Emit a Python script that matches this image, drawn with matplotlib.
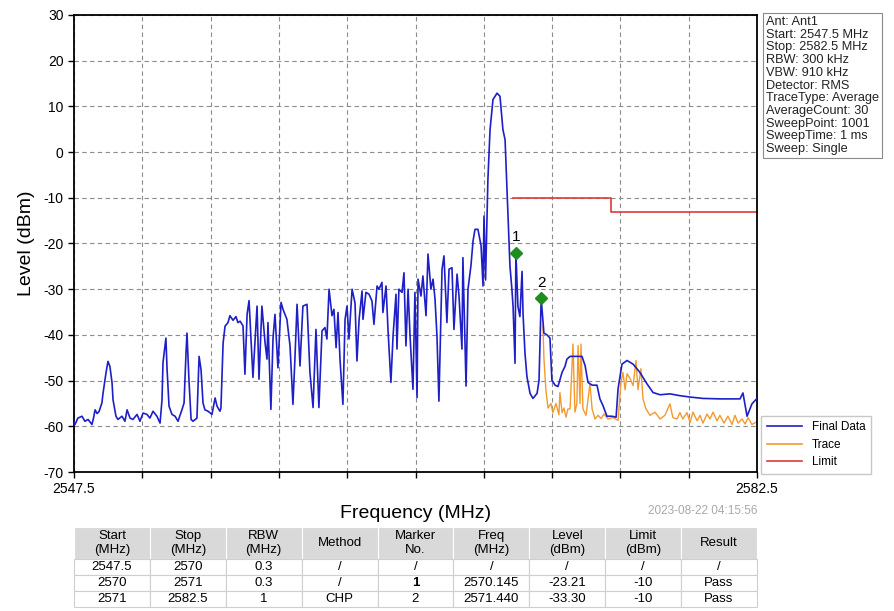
import numpy as np
import matplotlib
matplotlib.use("Agg")
import matplotlib.pyplot as plt
from matplotlib.lines import Line2D

plt.rcParams['font.family'] = ['Liberation Sans', 'DejaVu Sans']

# ---------------- data ----------------
final_freq = [
    2547.50, 2547.55, 2547.70, 2547.91, 2548.06, 2548.22, 2548.42, 2548.50, 2548.58, 2548.68,
    2548.78, 2548.93, 2548.99, 2549.14, 2549.24, 2549.34, 2549.45, 2549.50, 2549.65, 2549.75,
    2549.96, 2550.11, 2550.22, 2550.37, 2550.52, 2550.73, 2550.88, 2551.04, 2551.24, 2551.39,
    2551.55, 2551.75, 2551.91, 2552.01, 2552.06, 2552.21, 2552.27, 2552.37, 2552.52, 2552.68,
    2552.83, 2553.03, 2553.14, 2553.24, 2553.29, 2553.39, 2553.50, 2553.60, 2553.80, 2553.91,
    2554.01, 2554.11, 2554.21, 2554.37, 2554.57, 2554.73, 2554.83, 2554.98, 2555.03, 2555.14,
    2555.24, 2555.39, 2555.49, 2555.65, 2555.80, 2555.90, 2556.01, 2556.16, 2556.26, 2556.37,
    2556.47, 2556.62, 2556.67, 2556.88, 2556.98, 2557.13, 2557.29, 2557.39, 2557.44, 2557.59,
    2557.70, 2557.80, 2557.95, 2558.11, 2558.21, 2558.41, 2558.57, 2558.72, 2558.82, 2558.93,
    2559.08, 2559.23, 2559.44, 2559.59, 2559.75, 2559.90, 2560.05, 2560.21, 2560.36, 2560.46,
    2560.57, 2560.72, 2560.82, 2560.93, 2561.03, 2561.13, 2561.28, 2561.39, 2561.49, 2561.59,
    2561.75, 2561.90, 2562.00, 2562.11, 2562.26, 2562.31, 2562.46, 2562.62, 2562.77, 2562.87,
    2563.03, 2563.13, 2563.28, 2563.33, 2563.49, 2563.59, 2563.74, 2563.85, 2564.00, 2564.05,
    2564.15, 2564.31, 2564.41, 2564.51, 2564.62, 2564.72, 2564.87, 2564.97, 2565.08, 2565.13,
    2565.28, 2565.38, 2565.54, 2565.64, 2565.79, 2565.90, 2566.00, 2566.10, 2566.20, 2566.36,
    2566.46, 2566.61, 2566.72, 2566.87, 2566.97, 2567.13, 2567.23, 2567.38, 2567.43, 2567.59,
    2567.69, 2567.84, 2567.95, 2568.05, 2568.20, 2568.36, 2568.46, 2568.51, 2568.59, 2568.71,
    2568.82, 2568.97, 2569.18, 2569.33, 2569.48, 2569.59, 2569.69, 2569.84, 2569.94, 2570.00,
    2570.10, 2570.145, 2570.25, 2570.35, 2570.46, 2570.51, 2570.61, 2570.71, 2570.87, 2571.02,
    2571.23, 2571.33, 2571.44, 2571.58, 2571.74, 2571.89, 2571.99, 2572.15, 2572.30, 2572.51,
    2572.66, 2572.76, 2572.92, 2573.22, 2573.53, 2573.69, 2573.84, 2574.05, 2574.30, 2574.45,
    2574.61, 2574.81, 2575.07, 2575.28, 2575.38, 2575.58, 2575.84, 2576.15, 2576.50, 2576.86,
    2577.17, 2577.53, 2578.04, 2578.55, 2579.07, 2579.73, 2580.60, 2581.63, 2581.78, 2581.99,
    2582.24, 2582.50,
]
final_level = [
    -59.0, -59.6, -58.2, -57.8, -58.9, -58.5, -59.6, -58.2, -56.4, -57.2,
    -56.8, -54.9, -52.7, -48.3, -45.8, -46.9, -50.5, -54.2, -57.8, -58.5,
    -57.8, -58.9, -56.4, -58.2, -58.5, -57.4, -58.9, -57.1, -57.4, -58.2,
    -56.7, -57.8, -59.3, -54.2, -46.1, -40.7, -47.6, -55.6, -57.4, -57.8,
    -58.9, -56.4, -54.9, -43.9, -39.6, -49.8, -58.5, -58.9, -58.2, -44.7,
    -47.6, -54.9, -56.4, -56.7, -57.4, -53.8, -55.6, -56.7, -56.0, -41.8,
    -38.1, -37.3, -35.8, -36.8, -36.0, -37.3, -37.0, -38.0, -48.6, -35.5,
    -32.5, -45.3, -49.3, -33.7, -49.7, -33.7, -41.7, -45.3, -37.3, -56.3,
    -40.6, -35.5, -47.2, -32.9, -34.4, -36.6, -42.4, -55.2, -45.3, -33.3,
    -46.8, -33.7, -33.3, -48.2, -55.9, -38.8, -55.9, -39.1, -38.4, -40.9,
    -30.0, -35.8, -34.4, -42.8, -35.1, -45.3, -55.2, -36.6, -33.7, -40.9,
    -30.0, -33.0, -45.7, -36.6, -30.4, -36.6, -30.7, -31.1, -32.6, -37.7,
    -29.3, -30.0, -28.5, -35.1, -29.3, -38.8, -50.4, -40.2, -31.1, -43.1,
    -30.0, -30.7, -26.4, -42.4, -30.0, -40.2, -51.9, -30.7, -53.7, -27.8,
    -31.5, -27.1, -35.8, -22.3, -30.0, -27.8, -32.2, -40.2, -54.5, -25.6,
    -22.7, -37.3, -25.6, -25.3, -38.8, -26.7, -31.5, -43.1, -23.1, -51.2,
    -30.0, -24.9, -19.4, -16.9, -16.9, -20.5, -29.3, -14.0, -28.0, -6.0,
    4.9, 11.5, 12.9, 12.2, 4.9, 2.7, -8.2, -24.9, -30.0, -33.8,
    -46.2, -22.0, -33.8, -36.0, -26.1, -35.3, -44.0, -49.1, -52.8, -53.9,
    -52.8, -49.9, -32.0, -39.6, -40.0, -40.7, -49.9, -51.0, -51.3, -48.2,
    -46.9, -45.3, -44.7, -44.7, -44.7, -46.7, -50.4, -51.0, -51.0, -54.0,
    -55.5, -57.8, -57.8, -58.0, -51.8, -46.4, -45.6, -46.4, -48.2, -50.7,
    -52.6, -53.1, -52.9, -53.3, -53.6, -53.9, -54.0, -54.0, -52.7, -57.8,
    -55.1, -53.9,
]

trace_freq = [
    2571.53, 2571.58, 2571.68, 2571.79, 2571.94, 2572.04, 2572.20, 2572.35, 2572.40, 2572.51,
    2572.61, 2572.71, 2572.81, 2572.92, 2573.07, 2573.17, 2573.27, 2573.33, 2573.43, 2573.48,
    2573.58, 2573.74, 2573.94, 2574.05, 2574.20, 2574.35, 2574.51, 2574.66, 2574.86, 2575.12,
    2575.38, 2575.53, 2575.63, 2575.74, 2575.84, 2575.99, 2576.15, 2576.30, 2576.40, 2576.55,
    2576.66, 2576.81, 2577.02, 2577.27, 2577.53, 2577.78, 2578.04, 2578.19, 2578.40, 2578.55,
    2578.70, 2578.91, 2579.07, 2579.22, 2579.43, 2579.58, 2579.73, 2579.94, 2580.09, 2580.25,
    2580.45, 2580.60, 2580.81, 2581.01, 2581.22, 2581.37, 2581.53, 2581.73, 2581.89, 2582.04,
    2582.24, 2582.50,
]
trace_level = [
    -38.0, -45.0, -52.0, -56.0, -55.0, -57.0, -55.0, -57.5, -52.6, -57.0,
    -56.0, -58.0, -56.2, -56.2, -42.0, -56.9, -55.0, -42.3, -55.0, -42.0,
    -56.2, -57.6, -50.7, -56.2, -58.4, -57.6, -58.3, -57.3, -58.4, -58.1,
    -58.7, -50.4, -48.2, -52.0, -48.5, -49.5, -51.1, -45.6, -52.0, -47.4,
    -54.0, -56.2, -57.6, -56.9, -58.4, -57.6, -55.1, -58.1, -58.4, -57.0,
    -58.4, -57.0, -59.2, -56.9, -58.8, -57.6, -59.3, -57.3, -58.4, -56.9,
    -58.8, -57.6, -59.3, -57.8, -59.6, -57.6, -59.3, -58.4, -59.5, -58.1,
    -59.6, -59.0,
]

limit_freq = [2570.0, 2575.0, 2575.0, 2582.5]
limit_level = [-10, -10, -13, -13]

marker_ids = ["1", "2"]
marker_freq = [2570.145, 2571.440]
marker_level = [-22.0, -32.0]

x_ticks = [2547.5, 2551.0, 2554.5, 2558.0, 2561.5, 2565.0, 2568.5, 2572.0, 2575.5, 2579.0, 2582.5]
x_ticklabels = ["2547.5", "", "", "", "", "", "", "", "", "", "2582.5"]
y_ticks = [30, 20, 10, 0, -10, -20, -30, -40, -50, -60, -70]

info_lines = [
    "Ant: Ant1", "Start: 2547.5 MHz", "Stop: 2582.5 MHz", "RBW: 300 kHz",
    "VBW: 910 kHz", "Detector: RMS", "TraceType: Average", "AverageCount: 30",
    "SweepPoint: 1001", "SweepTime: 1 ms", "Sweep: Single",
]
timestamp = "2023-08-22 04:15:56"

table_header = ["Start\n(MHz)", "Stop\n(MHz)", "RBW\n(MHz)", "Method", "Marker\nNo.",
                "Freq\n(MHz)", "Level\n(dBm)", "Limit\n(dBm)", "Result"]
table_rows = [
    ["2547.5", "2570", "0.3", "/", "/", "/", "/", "/", "/"],
    ["2570", "2571", "0.3", "/", "1", "2570.145", "-23.21", "-10", "Pass"],
    ["2571", "2582.5", "1", "CHP", "2", "2571.440", "-33.30", "-10", "Pass"],
]

# ---------------- figure ----------------
W, H = 894, 611
fig = plt.figure(figsize=(W / 100, H / 100), dpi=100)
ax = fig.add_axes([74 / W, 1 - 472 / H, 683 / W, 457 / H])

ax.plot(final_freq, final_level, color="#1f1fc8", lw=1.2, label="Final Data", zorder=3)
ax.plot(trace_freq, trace_level, color="#f39a2e", lw=1.0, label="Trace", zorder=2)
ax.plot(limit_freq, limit_level, color="#e0383a", lw=1.2, label="Limit", zorder=2)
ax.plot(marker_freq, marker_level, linestyle="none", marker="D", ms=6.5,
        color="#1e8c1e", zorder=4)
for mid, mf, ml in zip(marker_ids, marker_freq, marker_level):
    ax.text(mf, ml + 1.8, mid, ha="center", va="bottom", fontsize=11, zorder=5)

ax.set_xlim(2547.5, 2582.5)
ax.set_ylim(-70, 30)
ax.set_xticks(x_ticks)
ax.set_xticklabels(x_ticklabels, fontsize=10)
ax.set_yticks(y_ticks)
ax.set_yticklabels([str(v) for v in y_ticks], fontsize=10)
ax.grid(True, linestyle=(0, (4, 3)), color="#8c8c8c", lw=0.8)
ax.tick_params(length=4, width=1)
for s in ax.spines.values():
    s.set_linewidth(1.3)
ax.set_xlabel("Frequency (MHz)", fontsize=14, labelpad=6)
ax.set_ylabel("Level (dBm)", fontsize=14, labelpad=6)

fig.text(757 / W, 1 - 511 / H, timestamp, ha="right", va="center", fontsize=8.5, color="#a8a8a8")

fig.text(766 / W, 1 - 16 / H, "\n".join(info_lines), ha="left", va="top", fontsize=9.2,
         linespacing=1.08, color="#222222",
         bbox=dict(boxstyle="square,pad=0.25", fc="white", ec="#8a8a8a", lw=0.8))

handles = [Line2D([], [], color="#1f1fc8", lw=1.2),
           Line2D([], [], color="#f39a2e", lw=1.2),
           Line2D([], [], color="#e0383a", lw=1.2)]
fig.legend(handles, ["Final Data", "Trace", "Limit"], loc="lower left",
           bbox_to_anchor=(761 / W, 1 - 474 / H), fontsize=8.5, frameon=True,
           fancybox=False, edgecolor="#bbbbbb", handlelength=3.0, borderpad=0.5,
           labelspacing=0.45, borderaxespad=0.0)

# ---------------- table ----------------
tax = fig.add_axes([74 / W, 1 - 607 / H, 683 / W, 80 / H])
tax.axis("off")
tbl = tax.table(cellText=table_rows, colLabels=table_header, cellLoc="center",
                bbox=[0, 0, 1, 1])
tbl.auto_set_font_size(False)
for (r, c), cell in tbl.get_celld().items():
    cell.set_height(2.05 if r == 0 else 1.0)
    cell.set_linewidth(0.8)
    cell.get_text().set_fontsize(9.5)
    if r == 0:
        cell.set_facecolor("#d9d9d9")
        cell.set_edgecolor("white")
    else:
        cell.set_facecolor("white")
        cell.set_edgecolor("#cfcfcf")
tbl[2, 4].get_text().set_fontweight("bold")

fig.savefig("out.png", dpi=100)
